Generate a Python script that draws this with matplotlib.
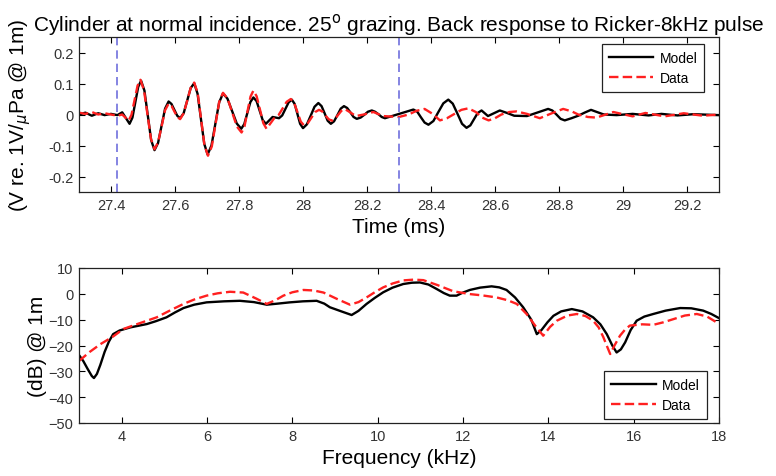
import matplotlib
matplotlib.use("Agg")
import matplotlib.pyplot as plt

plt.rcParams['font.family'] = ['Liberation Sans', 'DejaVu Sans']

# time response (ms, V re 1V/uPa @ 1m)
t_model = [27.300, 27.320, 27.340, 27.360, 27.380, 27.400, 27.420, 27.435, 27.458, 27.467,
           27.476, 27.485, 27.494, 27.5045, 27.515, 27.5255, 27.536, 27.547, 27.558, 27.569,
           27.580, 27.589, 27.598, 27.607, 27.616, 27.627, 27.638, 27.649, 27.660, 27.6705,
           27.681, 27.6915, 27.702, 27.714, 27.726, 27.738, 27.750, 27.764, 27.7785, 27.793,
           27.807, 27.8165, 27.826, 27.8355, 27.845, 27.855, 27.8645, 27.874, 27.884, 27.8945,
           27.905, 27.915, 27.925, 27.935, 27.945, 27.955, 27.965, 27.974, 27.9825, 27.991,
           28.000, 28.012, 28.024, 28.036, 28.048, 28.058, 28.0675, 28.077, 28.087, 28.097,
           28.1075, 28.118, 28.128, 28.138, 28.148, 28.158, 28.168, 28.180, 28.1915, 28.203,
           28.215, 28.225, 28.2355, 28.246, 28.256, 28.278, 28.300, 28.3225, 28.345, 28.357,
           28.3685, 28.380, 28.392, 28.4075, 28.423, 28.4385, 28.454, 28.468, 28.4825, 28.497,
           28.511, 28.523, 28.5345, 28.546, 28.558, 28.568, 28.578, 28.5965, 28.615, 28.6375,
           28.660, 28.700, 28.733, 28.766, 28.779, 28.792, 28.805, 28.818, 28.839, 28.860,
           28.880, 28.900, 28.940, 28.980, 29.030, 29.080, 29.120, 29.170, 29.220, 29.300]
v_model = [0.000, 0.006, -0.004, 0.004, -0.002, 0.002, -0.002, 0.007, -0.030, -0.010,
           0.040, 0.089, 0.109, 0.077, -0.003, -0.083, -0.115, -0.092, -0.037, 0.019,
           0.042, 0.034, 0.015, -0.004, -0.012, 0.004, 0.045, 0.085, 0.101, 0.067,
           -0.014, -0.095, -0.129, -0.100, -0.031, 0.039, 0.068, 0.051, 0.011, -0.029,
           -0.046, -0.031, 0.005, 0.040, 0.055, 0.043, 0.013, -0.018, -0.030, -0.019,
           -0.008, -0.010, -0.012, -0.003, 0.018, 0.039, 0.048, 0.034, 0.002, -0.030,
           -0.044, -0.032, -0.004, 0.025, 0.037, 0.027, 0.004, -0.020, -0.030, -0.022,
           -0.002, 0.019, 0.027, 0.021, 0.007, -0.008, -0.014, -0.010, -0.001, 0.009,
           0.013, 0.009, 0.001, -0.008, -0.012, -0.005, 0.002, 0.009, 0.016, 0.009,
           -0.009, -0.026, -0.033, -0.021, 0.008, 0.036, 0.048, 0.035, 0.003, -0.030,
           -0.043, -0.035, -0.015, 0.005, 0.013, 0.004, -0.005, 0.004, 0.013, 0.005,
           -0.004, -0.005, 0.0065, 0.018, 0.013, 0.000, -0.014, -0.019, -0.012, -0.004,
           0.006, 0.015, 0.000, -0.002, 0.002, -0.003, 0.002, -0.003, 0.001, -0.002]

t_data = [27.300, 27.320, 27.340, 27.360, 27.380, 27.400, 27.420, 27.435, 27.455, 27.464,
          27.4735, 27.483, 27.492, 27.503, 27.514, 27.525, 27.536, 27.547, 27.558, 27.569,
          27.580, 27.589, 27.598, 27.607, 27.616, 27.627, 27.638, 27.649, 27.660, 27.671,
          27.6815, 27.692, 27.703, 27.715, 27.7265, 27.738, 27.750, 27.7645, 27.779, 27.7935,
          27.808, 27.817, 27.8265, 27.836, 27.845, 27.855, 27.8655, 27.876, 27.886, 27.898,
          27.910, 27.923, 27.936, 27.949, 27.962, 27.972, 27.9825, 27.993, 28.003, 28.015,
          28.0265, 28.038, 28.050, 28.060, 28.070, 28.080, 28.090, 28.100, 28.110, 28.120,
          28.130, 28.1475, 28.165, 28.190, 28.220, 28.250, 28.300, 28.330, 28.355, 28.380,
          28.405, 28.428, 28.450, 28.470, 28.495, 28.517, 28.540, 28.560, 28.580, 28.600,
          28.620, 28.645, 28.667, 28.700, 28.740, 28.780, 28.813, 28.840, 28.860, 28.890,
          28.917, 28.970, 29.030, 29.070, 29.130, 29.190, 29.250, 29.300]
v_data = [0.006, 0.002, 0.008, 0.000, 0.004, 0.000, -0.004, 0.000, -0.020, -0.001,
          0.046, 0.093, 0.112, 0.079, 0.000, -0.079, -0.112, -0.090, -0.039, 0.014,
          0.035, 0.028, 0.010, -0.008, -0.015, 0.004, 0.044, 0.086, 0.103, 0.069,
          -0.015, -0.099, -0.133, -0.103, -0.032, 0.040, 0.070, 0.051, 0.006, -0.039,
          -0.058, -0.039, 0.010, 0.058, 0.077, 0.059, 0.016, -0.028, -0.046, -0.029,
          -0.012, -0.003, 0.019, 0.041, 0.050, 0.038, 0.008, -0.023, -0.035, -0.028,
          -0.010, 0.008, 0.015, 0.010, -0.003, -0.015, -0.020, -0.014, -0.001, 0.012,
          0.018, 0.007, -0.005, 0.000, 0.008, -0.005, -0.008, 0.000, 0.012, 0.018,
          0.002, -0.019, -0.012, 0.000, 0.015, 0.020, 0.008, -0.010, -0.019, -0.012,
          0.000, 0.008, 0.010, 0.002, -0.012, 0.005, 0.018, 0.010, 0.000, -0.008,
          -0.010, 0.008, -0.006, 0.005, -0.006, 0.004, -0.004, 0.000]

window = [27.42, 28.30]

# spectrum (kHz, dB @ 1m)
f_model = [3.00, 3.10, 3.20, 3.30, 3.35, 3.42, 3.50, 3.60, 3.70, 3.80,
           3.95, 4.20, 4.59, 4.80, 5.05, 5.25, 5.45, 5.70, 5.99, 6.40,
           6.77, 7.10, 7.40, 7.65, 7.94, 8.25, 8.57, 8.75, 8.88, 9.15,
           9.39, 9.55, 9.74, 9.93, 10.13, 10.35, 10.60, 10.80, 10.99, 11.19,
           11.38, 11.55, 11.69, 11.85, 12.00, 12.16, 12.40, 12.67, 12.85, 13.02,
           13.22, 13.41, 13.60, 13.73, 13.84, 13.98, 14.12, 14.30, 14.55, 14.80,
           15.05, 15.22, 15.37, 15.50, 15.60, 15.70, 15.80, 15.93, 16.07, 16.25,
           16.46, 16.75, 17.09, 17.35, 17.63, 17.82, 18.00]
db_model = [-23.7, -26.0, -29.0, -31.8, -32.6, -31.0, -27.5, -22.5, -18.5, -15.6,
            -14.2, -13.0, -11.7, -10.6, -9.1, -7.2, -5.5, -4.2, -3.3, -2.9,
            -2.7, -3.2, -4.2, -3.8, -3.3, -2.9, -2.7, -3.8, -5.2, -6.8,
            -8.2, -6.6, -3.9, -1.6, 0.6, 2.4, 3.8, 4.3, 4.4, 3.6,
            1.9, 0.3, -0.7, -0.7, 0.5, 1.5, 2.4, 2.9, 2.5, 1.5,
            -1.4, -5.2, -10.0, -15.6, -14.0, -11.0, -8.5, -6.8, -5.9, -6.8,
            -9.1, -11.8, -15.6, -20.0, -22.7, -21.5, -18.8, -14.0, -10.4, -8.8,
            -7.8, -6.5, -5.5, -5.6, -6.5, -7.8, -9.4]

f_data = [3.00, 3.25, 3.50, 3.80, 4.04, 4.40, 4.82, 5.15, 5.45, 5.70,
          5.99, 6.25, 6.54, 6.85, 7.15, 7.40, 7.60, 7.79, 8.00, 8.26,
          8.50, 8.73, 9.05, 9.35, 9.55, 9.74, 9.93, 10.13, 10.35, 10.60,
          10.85, 11.07, 11.40, 11.77, 12.16, 12.45, 12.79, 13.05, 13.26, 13.49,
          13.70, 13.88, 14.04, 14.20, 14.45, 14.67, 14.87, 15.05, 15.18, 15.29,
          15.38, 15.45, 15.55, 15.68, 15.80, 15.91, 16.20, 16.46, 16.70, 16.93,
          17.20, 17.48, 17.72, 17.94]
db_data = [-26.0, -22.5, -19.5, -16.5, -13.6, -11.5, -9.1, -6.3, -3.9, -2.2,
           -0.7, 0.2, 0.8, 0.5, -1.8, -3.9, -2.5, -0.7, 0.6, 1.5,
           1.3, 0.5, -2.0, -4.2, -3.2, -1.4, 0.6, 2.5, 4.0, 5.2,
           5.5, 5.3, 3.4, 1.0, -0.1, -0.6, -1.4, -2.5, -3.9, -7.8,
           -12.5, -16.2, -12.8, -10.4, -8.4, -7.8, -8.6, -10.4, -13.0, -16.8,
           -20.5, -23.3, -20.0, -16.2, -13.8, -12.3, -11.8, -12.0, -11.0, -9.8,
           -8.4, -7.8, -8.8, -11.0]

W, H = 776, 477
fig = plt.figure(figsize=(W / 100, H / 100), dpi=100)
ax1 = fig.add_axes([79 / W, 1 - 193 / H, 640 / W, 155 / H])
ax2 = fig.add_axes([79 / W, 1 - 424 / H, 640 / W, 155 / H])

red = '#ff2020'
dash = (0, (4, 1.8))
legend_kw = dict(borderaxespad=0, fontsize=10, fancybox=False, framealpha=1,
                 edgecolor='#222222', handlelength=3.2, handletextpad=0.45,
                 borderpad=0.5, labelspacing=0.45)

for ax in (ax1, ax2):
    ax.tick_params(direction='in', top=True, right=True, length=4, width=0.8,
                   labelsize=10.5, labelcolor='#333333', pad=4)
    for s in ax.spines.values():
        s.set_linewidth(0.9)
        s.set_color('#222222')

ax1.plot(t_model, v_model, color='black', lw=1.7, label='Model')
ax1.plot(t_data, v_data, color=red, lw=1.7, ls=dash, label='Data')
for x in window:
    ax1.axvline(x, color='#7070dd', lw=1.2, ls=(0, (5, 3)))
ax1.set_xlim(27.3, 29.3)
ax1.set_ylim(-0.25, 0.25)
ax1.set_xticks([27.4, 27.6, 27.8, 28, 28.2, 28.4, 28.6, 28.8, 29, 29.2])
ax1.set_xticklabels(['27.4', '27.6', '27.8', '28', '28.2', '28.4', '28.6', '28.8', '29', '29.2'])
ax1.set_yticks([-0.2, -0.1, 0, 0.1, 0.2])
ax1.set_yticklabels(['-0.2', '-0.1', '0', '0.1', '0.2'])
ax1.set_xlabel('Time (ms)', fontsize=15)
ax1.set_ylabel('(V re. 1V/$_{\\mu}$Pa @ 1m)', fontsize=15)
ax1.xaxis.set_label_coords(0.5, -0.16)
ax1.yaxis.set_label_coords(-0.072, 0.5)
ax1.set_title('Cylinder at normal incidence. 25$^{\\rm o}$ grazing. Back response to Ricker-8kHz pulse',
              fontsize=15, pad=5)
leg1 = ax1.legend(loc='upper right', bbox_to_anchor=(0.977, 0.955), **legend_kw)
leg1.get_frame().set_linewidth(0.9)

ax2.plot(f_model, db_model, color='black', lw=1.7, label='Model')
ax2.plot(f_data, db_data, color=red, lw=1.7, ls=dash, label='Data')
ax2.set_xlim(3, 18)
ax2.set_ylim(-50, 10)
ax2.set_xticks([4, 6, 8, 10, 12, 14, 16, 18])
ax2.set_yticks([-50, -40, -30, -20, -10, 0, 10])
ax2.set_xlabel('Frequency (kHz)', fontsize=15)
ax2.set_ylabel('(dB) @ 1m', fontsize=15)
ax2.xaxis.set_label_coords(0.5, -0.16)
ax2.yaxis.set_label_coords(-0.05, 0.5)
leg2 = ax2.legend(loc='lower right', bbox_to_anchor=(0.981, 0.026), **legend_kw)
leg2.get_frame().set_linewidth(0.9)

fig.savefig('out.png', dpi=100)
